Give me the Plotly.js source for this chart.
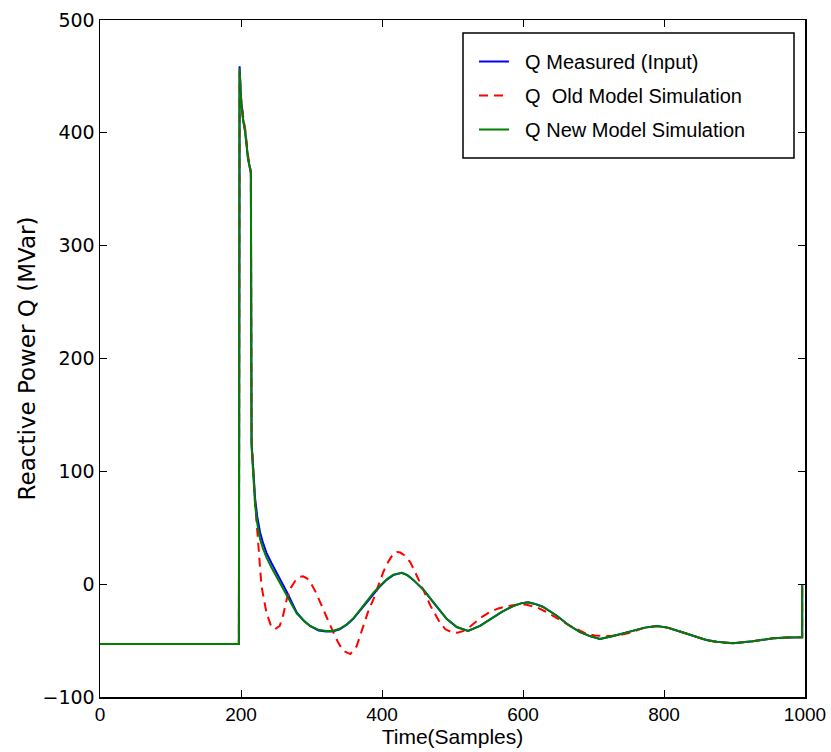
<!DOCTYPE html>
<html>
<head>
<meta charset="utf-8">
<script src="https://cdn.plot.ly/plotly-3.0.1.min.js"></script>
<style>html,body{margin:0;padding:0;background:#fff;}#chart{width:831px;height:752px;}</style>
</head>
<body>
<div id="chart"></div>
<script>
// ---- data ----
const measuredT = [0, 197, 198, 200, 203, 206, 210, 214, 215, 217, 220, 223, 227, 231, 236, 243, 250, 257, 265, 279, 290, 298, 310, 321, 330, 340, 350, 359, 368, 378, 388, 397, 407, 416, 428, 436, 444, 459, 475, 492, 506, 522, 539, 553, 570, 586, 597, 607, 617, 628, 648, 664, 681, 695, 709, 728, 745, 756, 773, 790, 805, 818, 832, 847, 860, 875, 898, 926, 955, 975, 993, 996, 996];
const measuredQ = [-53, -53, 459, 430, 412, 401, 377, 365, 125, 106, 76, 60, 46, 37, 28, 19, 11, 2, -7, -25, -33, -37, -41, -42, -42, -40, -36, -31, -24, -16, -8, -2, 4, 8, 10, 8, 4, -5, -18, -31, -38, -41.5, -37, -31, -24.5, -19.5, -17, -16, -17.5, -20, -28, -36, -42.5, -46, -48.5, -46, -43, -41, -38.5, -37, -38.5, -41, -44, -47, -49.5, -51, -52.3, -50.5, -48, -47.3, -47, -47, 0];

const oldT = [0, 197, 198, 200, 203, 206, 210, 214, 215, 217, 220, 224, 229, 236, 242, 248, 255, 260, 265, 271, 277, 283, 288, 294, 300, 306, 312, 322, 331, 338, 345, 355, 364, 373, 380, 388, 395, 402, 409, 416, 421, 426, 433, 440, 446, 452, 460, 469, 476, 482, 490, 499, 507, 515, 524, 534, 543, 553, 565, 577, 587, 596, 605, 619, 631, 643, 655, 667, 679, 690, 702, 714, 726, 738, 752, 770, 790, 805, 818, 832, 847, 860, 875, 898, 926, 955, 975, 993, 996, 996];
const oldQ = [-53, -53, 455, 432, 415, 403, 380, 366, 130, 105, 72, 40, -1.5, -25, -36, -40, -37, -27, -13, -3, 3, 6.5, 7, 5, 0, -7, -16, -30, -42.5, -52, -59, -62, -55, -37, -25, -13, 0, 11, 20, 27, 28.5, 28, 25, 19.5, 12, 4.4, -7, -19.5, -28, -34, -40, -42.6, -43, -41.6, -38, -32.6, -28.5, -24.8, -21.5, -19.5, -18.2, -17.7, -18.3, -20.4, -24, -28, -32.5, -37, -41, -44, -45.5, -46, -45.8, -45, -43, -39, -37, -38.5, -41, -44, -47, -49.5, -51.5, -52.5, -50.5, -48, -47.3, -47, -47, 0];

const newT = [0, 197, 198, 200, 203, 206, 210, 214, 215, 217, 220, 223, 227, 231, 236, 243, 250, 257, 265, 279, 290, 298, 310, 321, 330, 340, 350, 359, 368, 378, 388, 397, 407, 416, 428, 436, 444, 459, 475, 492, 506, 522, 539, 553, 570, 586, 597, 607, 617, 628, 648, 664, 681, 695, 709, 728, 745, 756, 773, 790, 805, 818, 832, 847, 860, 875, 898, 926, 955, 975, 993, 996, 996];
const newQ = [-53, -53, 457, 428, 411, 400, 377, 364, 122, 100, 70, 54, 40, 32, 24, 15, 7, -1, -9, -26, -33, -37, -40.5, -41.5, -41.5, -39.5, -35.5, -30.5, -23.5, -15.5, -7.5, -1.5, 4.5, 8.5, 10, 8, 4, -5, -18, -31, -38, -41.5, -37, -31, -24.5, -19.5, -17, -16, -17.5, -20, -28, -36, -42.5, -46, -48.5, -46, -43, -41, -38.5, -37, -38.5, -41, -44, -47, -49.5, -51, -52.3, -50.5, -48, -47.3, -47, -47, 0];

const seriesNames = ['Q Measured (Input)', 'Q\u00a0 Old Model Simulation', 'Q New Model Simulation'];
const xTicks = [0, 200, 400, 600, 800, 1000];
const yTicks = [-100, 0, 100, 200, 300, 400, 500];

const narrow = '"Liberation Sans", Arial, sans-serif';
const traces = [
  {x: measuredT, y: measuredQ, name: '\u00a0\u00a0' + seriesNames[0], legendgroup: 'a', mode: 'lines', line: {color: '#0000ff', width: 2}},
  {x: oldT, y: oldQ, name: '\u00a0\u00a0' + seriesNames[1], legendgroup: 'b', mode: 'lines', line: {color: '#ff0000', width: 2, dash: '9px,6px'}},
  {x: newT, y: newQ, name: '\u00a0\u00a0' + seriesNames[2], legendgroup: 'c', mode: 'lines', line: {color: '#008000', width: 2}}
];

const layout = {
  width: 831, height: 752,
  margin: {l: 100, r: 26, t: 20, b: 55},
  paper_bgcolor: '#ffffff', plot_bgcolor: '#ffffff',
  showlegend: true,
  xaxis: {
    range: [0, 1000], tickvals: xTicks, ticktext: xTicks.map(String),
    ticks: 'inside', ticklen: 7, tickwidth: 1, tickcolor: '#000',
    mirror: 'ticks', showline: true, linecolor: '#000', linewidth: 1.5,
    showgrid: false, zeroline: false,
    tickfont: {family: narrow, size: 19, color: '#000'},
    title: {text: 'Time(Samples)', font: {family: narrow, size: 21, color: '#000'}, standoff: 5}
  },
  yaxis: {
    range: [-100, 500], tickvals: yTicks, ticktext: yTicks.map(v => v < 0 ? '\u2212' + Math.abs(v) : String(v)),
    ticks: 'inside', ticklen: 7, tickwidth: 1, tickcolor: '#000',
    mirror: 'ticks', showline: true, linecolor: '#000', linewidth: 1.5,
    showgrid: false, zeroline: false,
    tickfont: {family: '"DejaVu Sans", sans-serif', size: 19, color: '#000'},
    title: {text: 'Reactive Power Q (MVar)', font: {family: '"DejaVu Sans", sans-serif', size: 23, color: '#000'}, standoff: 0}
  },
  legend: {
    x: 0.5305, xanchor: 'left', y: 0.9675, yanchor: 'top',
    bgcolor: 'rgba(0,0,0,0)', borderwidth: 0,
    traceorder: 'grouped', tracegroupgap: 5,
    font: {family: narrow, size: 20, color: '#000'}
  },
  shapes: [{
    type: 'rect', xref: 'paper', yref: 'paper', layer: 'above',
    x0: 0.5149, x1: 0.9844, y0: 0.7962, y1: 0.9808,
    line: {color: '#000', width: 1.5}, fillcolor: 'rgba(0,0,0,0)'
  }]
};

Plotly.newPlot('chart', traces, layout, {displayModeBar: false, staticPlot: true});
</script>
</body>
</html>
